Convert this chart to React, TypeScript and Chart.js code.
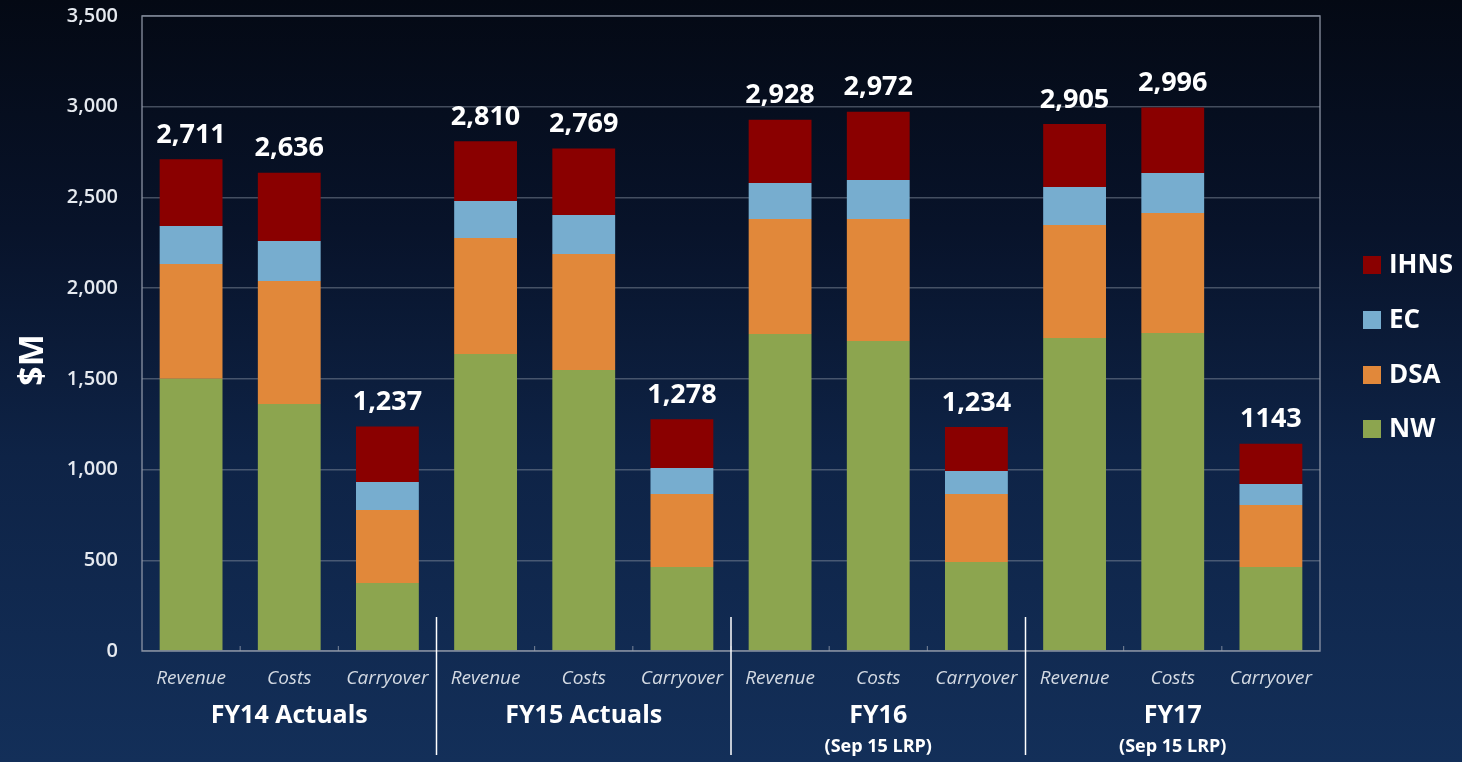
import React, { useEffect, useRef } from "react";
import { Chart, registerables } from "chart.js";

Chart.register(...registerables);

const categories = [
  "Revenue", "Costs", "Carryover",
  "Revenue", "Costs", "Carryover",
  "Revenue", "Costs", "Carryover",
  "Revenue", "Costs", "Carryover",
];
const nwValues = [1500, 1361, 375, 1637, 1549, 463, 1747, 1709, 491, 1725, 1753, 463];
const dsaValues = [633, 678, 402, 639, 639, 402, 634, 672, 374, 623, 661, 342];
const ecValues = [209, 221, 154, 204, 215, 144, 198, 215, 127, 209, 221, 115];
const ihnsValues = [369, 376, 306, 330, 366, 269, 349, 376, 242, 348, 361, 223];
const totalLabels = [
  "2,711", "2,636", "1,237",
  "2,810", "2,769", "1,278",
  "2,928", "2,972", "1,234",
  "2,905", "2,996", "1143",
];
const groupLabels = [
  ["FY14 Actuals"],
  ["FY15 Actuals"],
  ["FY16", "(Sep 15 LRP)"],
  ["FY17", "(Sep 15 LRP)"],
];
const yTicks = [0, 500, 1000, 1500, 2000, 2500, 3000, 3500];

const COLORS = {
  NW: "#8ca54f",
  DSA: "#e1883a",
  EC: "#77adcf",
  IHNS: "#8a0000",
};
const FONT = "'Open Sans', 'Noto Sans', sans-serif";

const overlayPlugin = {
  id: "overlay",
  afterDraw(chart: any) {
    const ctx = chart.ctx;
    const area = chart.chartArea;
    const x = chart.scales.x;
    const y = chart.scales.y;
    ctx.save();

    // frame
    ctx.strokeStyle = "rgba(150,158,172,0.8)";
    ctx.lineWidth = 1.5;
    ctx.strokeRect(area.left, area.top, area.right - area.left, area.bottom - area.top);

    // small inward ticks between categories
    ctx.lineWidth = 1;
    for (let i = 1; i < categories.length; i++) {
      const px = (x.getPixelForValue(i - 1) + x.getPixelForValue(i)) / 2;
      ctx.beginPath();
      ctx.moveTo(px, area.bottom);
      ctx.lineTo(px, area.bottom - 5);
      ctx.stroke();
    }

    // totals above bars
    ctx.fillStyle = "#ffffff";
    ctx.font = `bold 27px ${FONT}`;
    ctx.textAlign = "center";
    ctx.textBaseline = "middle";
    categories.forEach((_, i) => {
      const total = nwValues[i] + dsaValues[i] + ecValues[i] + ihnsValues[i];
      const px = x.getPixelForValue(i);
      const py = y.getPixelForValue(total) - 24;
      ctx.fillText(totalLabels[i], px, py);
    });

    // group separators
    ctx.strokeStyle = "#ffffff";
    ctx.lineWidth = 1.5;
    for (let g = 1; g < 4; g++) {
      const px = (x.getPixelForValue(g * 3 - 1) + x.getPixelForValue(g * 3)) / 2;
      ctx.beginPath();
      ctx.moveTo(px, area.bottom - 34);
      ctx.lineTo(px, 755);
      ctx.stroke();
    }

    // group labels
    groupLabels.forEach((lines, g) => {
      const px = x.getPixelForValue(g * 3 + 1);
      ctx.fillStyle = "#ffffff";
      ctx.font = `bold 25px ${FONT}`;
      ctx.fillText(lines[0], px, 716);
      if (lines[1]) {
        ctx.font = `bold 18px ${FONT}`;
        ctx.fillText(lines[1], px, 747);
      }
    });

    // y axis title
    ctx.save();
    ctx.translate(33, 360);
    ctx.rotate(-Math.PI / 2);
    ctx.font = `bold 34px ${FONT}`;
    ctx.fillStyle = "#ffffff";
    ctx.fillText("$M", 0, 0);
    ctx.restore();

    // legend
    const legend = [
      ["IHNS", COLORS.IHNS, 265],
      ["EC", COLORS.EC, 320],
      ["DSA", COLORS.DSA, 375],
      ["NW", COLORS.NW, 429],
    ] as [string, string, number][];
    ctx.textAlign = "left";
    ctx.font = `bold 26px ${FONT}`;
    legend.forEach(([label, color, ly]) => {
      ctx.fillStyle = color;
      ctx.fillRect(1363, ly - 9, 18, 18);
      ctx.fillStyle = "#ffffff";
      ctx.fillText(label, 1389, ly + 1);
    });

    ctx.restore();
  },
};

export default function App() {
  const canvasRef = useRef<HTMLCanvasElement>(null);

  useEffect(() => {
    const canvas = canvasRef.current;
    if (!canvas) return;
    const chart = new Chart(canvas, {
      type: "bar",
      data: {
        labels: categories,
        datasets: [
          { label: "NW", data: nwValues, backgroundColor: COLORS.NW },
          { label: "DSA", data: dsaValues, backgroundColor: COLORS.DSA },
          { label: "EC", data: ecValues, backgroundColor: COLORS.EC },
          { label: "IHNS", data: ihnsValues, backgroundColor: COLORS.IHNS },
        ],
      },
      options: {
        responsive: false,
        animation: false,
        layout: { padding: { top: 16, right: 142, left: 0, bottom: 0 } },
        datasets: {
          bar: { barPercentage: 0.64, categoryPercentage: 1 },
        },
        plugins: {
          legend: { display: false },
          tooltip: { enabled: false },
        },
        scales: {
          x: {
            stacked: true,
            grid: { display: false, drawTicks: false },
            border: { display: false },
            ticks: {
              color: "#d4dae3",
              font: { family: FONT, size: 19, style: "italic" },
              padding: 16,
              maxRotation: 0,
              autoSkip: false,
            },
            afterFit: (s: any) => {
              s.height = 111;
              s.paddingLeft = 0;
              s.paddingRight = 0;
            },
          },
          y: {
            stacked: true,
            min: 0,
            max: 3500,
            afterBuildTicks: (s: any) => {
              s.ticks = yTicks.map((v) => ({ value: v }));
            },
            grid: {
              color: "rgba(130,140,155,0.5)",
              lineWidth: 1.5,
              drawTicks: false,
            },
            border: { display: false },
            ticks: {
              color: "#e6eaf0",
              font: { family: FONT, size: 20, weight: 600 },
              padding: 24,
              callback: (v: any) => Number(v).toLocaleString("en-US"),
            },
            afterFit: (s: any) => {
              s.width = 142;
              s.paddingTop = 0;
              s.paddingBottom = 0;
            },
          },
        },
      },
      plugins: [overlayPlugin],
    });
    return () => chart.destroy();
  }, []);

  return (
    <div
      style={{
        position: "fixed",
        left: 0,
        top: 0,
        width: 1462,
        height: 762,
        background:
          "linear-gradient(to bottom, #040914 0%, #08132a 30%, #0e2346 60%, #132f59 100%)",
      }}
    >
      <canvas ref={canvasRef} width={1462} height={762} style={{ display: "block" }} />
    </div>
  );
}
